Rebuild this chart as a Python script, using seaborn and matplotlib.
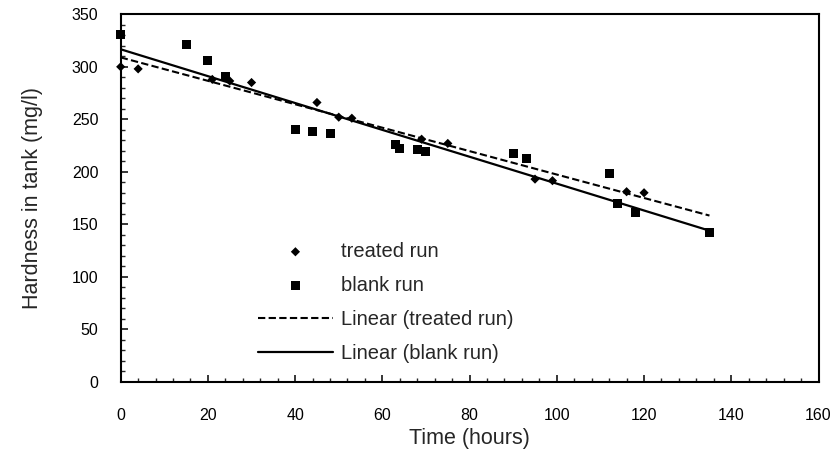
import numpy as np
import pandas as pd
import matplotlib
matplotlib.use("Agg")
import matplotlib.pyplot as plt
import seaborn as sns
from matplotlib.ticker import MultipleLocator

# ---- data ----
treated_time = [0, 4, 21, 25, 30, 45, 50, 53, 69, 75, 95, 99, 116, 120]
treated_hardness = [300, 298, 288, 286.5, 285, 266, 252, 251, 231, 227, 193, 191.5, 181, 180]
blank_time = [0, 15, 20, 24, 40, 44, 48, 63, 64, 68, 70, 90, 93, 112, 114, 118, 135]
blank_hardness = [331, 321, 306, 291, 240, 238, 236, 225.5, 222, 221, 219.5, 217.5, 212.5, 198.5, 170, 161, 142]
x_ticks = [0, 20, 40, 60, 80, 100, 120, 140, 160]
y_ticks = [0, 50, 100, 150, 200, 250, 300, 350]
series_labels = ["treated run", "blank run", "Linear (treated run)", "Linear (blank run)"]

sns.set_style("ticks")
plt.rcParams["font.family"] = ["Liberation Sans", "DejaVu Sans"]

fig = plt.figure(figsize=(8.32, 4.58), dpi=100)
ax = fig.add_axes([120.7 / 832, 1 - 381.7 / 458, (818.5 - 120.7) / 832, (381.7 - 14.3) / 458])

# linear trendlines (least squares), extended to the end of the longer run
fit_end = max(max(treated_time), max(blank_time))
tx = np.array([0, fit_end])
pt = np.polyfit(treated_time, treated_hardness, 1)
pb = np.polyfit(blank_time, blank_hardness, 1)
trend = pd.DataFrame({
    "t": np.concatenate([tx, tx]),
    "v": np.concatenate([np.polyval(pt, tx), np.polyval(pb, tx)]),
    "s": [series_labels[2]] * 2 + [series_labels[3]] * 2,
})

sns.scatterplot(x=treated_time, y=treated_hardness, marker="D", s=22, color="black",
                edgecolor="none", ax=ax, label=series_labels[0], zorder=3, clip_on=False)
sns.scatterplot(x=blank_time, y=blank_hardness, marker="s", s=42, color="black",
                edgecolor="none", ax=ax, label=series_labels[1], zorder=3, clip_on=False)
sns.lineplot(data=trend[trend.s == series_labels[2]], x="t", y="v", color="black",
             lw=1.5, ax=ax, label=series_labels[2], dashes=False, zorder=2)
ax.lines[-1].set_dashes([3.5, 1.6])
sns.lineplot(data=trend[trend.s == series_labels[3]], x="t", y="v", color="black",
             lw=1.6, ax=ax, label=series_labels[3], zorder=2)

ax.set_xlim(0, 160)
ax.set_ylim(0, 350)
ax.set_xticks(x_ticks)
ax.set_yticks(y_ticks)
ax.xaxis.set_minor_locator(MultipleLocator(4))
ax.yaxis.set_minor_locator(MultipleLocator(10))
ax.tick_params(axis="both", which="major", direction="in", length=5, width=1.1,
               labelsize=11.5, colors="black", top=False, right=False)
ax.tick_params(axis="both", which="minor", direction="in", length=3, width=1.0,
               top=False, right=False)
ax.tick_params(axis="x", which="major", pad=19)
ax.tick_params(axis="y", which="major", pad=16)
for sp in ax.spines.values():
    sp.set_visible(True)
    sp.set_color("black")
    sp.set_linewidth(1.5)

ax.set_xlabel("Time (hours)", fontsize=15.5)
ax.set_ylabel("Hardness in tank (mg/l)", fontsize=15.5)
ax.xaxis.set_label_coords(0.5, -0.125)
ax.yaxis.set_label_coords(-0.112, 0.5)

leg = ax.legend(loc="center left", bbox_to_anchor=(0.197, 0.215), frameon=False,
                fontsize=14.5, handlelength=3.7, handletextpad=0.4, labelspacing=0.75,
                borderpad=0, borderaxespad=0)

fig.savefig("out.png", dpi=100)
